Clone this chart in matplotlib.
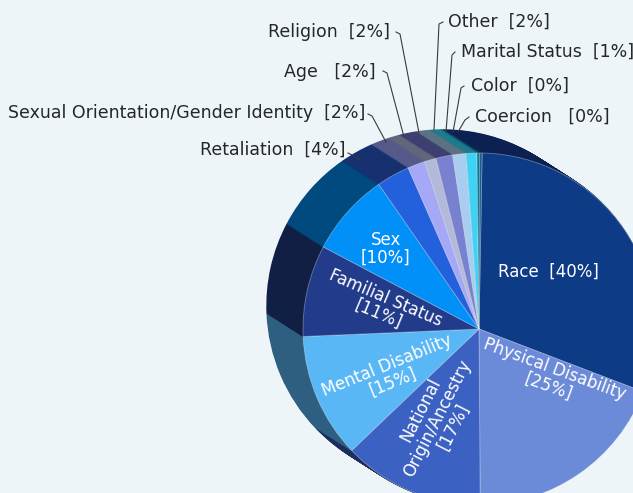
import matplotlib.pyplot as plt

# Fair housing complaint bases (slice sizes estimated, labels as shown)
bases = ["Race", "Physical Disability", "National Origin/Ancestry", "Mental Disability",
         "Familial Status", "Sex", "Retaliation", "Sexual Orientation/Gender Identity",
         "Age", "Religion", "Other", "Marital Status", "Color", "Coercion"]
sizes = [40, 25, 17, 15, 11, 10, 4, 2.1, 1.4, 2.0, 1.6, 1.3, 0.3, 0.3]
pct_text = ["40%", "25%", "17%", "15%", "11%", "10%", "4%", "2%", "2%", "2%", "2%", "1%", "0%", "0%"]

top_colors = ["#0e3b86", "#6b8bd8", "#3b62c3", "#5ab7f6", "#223b8b", "#0090f8", "#2360dc",
              "#a5a8f6", "#b2b9d9", "#7880d0", "#a8cdf0", "#40d2f6", "#0a7a92", "#1d5c90"]
side_colors = ["#0c2152", "#3a4f85", "#1c2d5e", "#2e5f80", "#121f45", "#004a80", "#17306f",
               "#555a8a", "#62667a", "#3c3f70", "#5a7282", "#1e7a8c", "#0c5a78", "#0a2a50"]

H = 493
bg = "#edf5f8"

fig = plt.figure(figsize=(6.33, 4.93), dpi=100, facecolor=bg)
ax = fig.add_axes([0, 0, 1, 1])
ax.set_facecolor(bg)

cx, cy, r = 479, H - 329, 176
dx, dy = -36, 23
steps = 40

# side wall: stacked copies of the pie pushed back up-left
for k in range(steps, 0, -1):
    t = k / steps
    wedges, _ = ax.pie(sizes, colors=side_colors, center=(cx + dx * t, cy + dy * t), radius=r,
                       startangle=89, counterclock=False, wedgeprops={"linewidth": 1})
    for w in wedges:
        w.set_edgecolor(w.get_facecolor())

# top face
ax.pie(sizes, colors=top_colors, center=(cx, cy), radius=r,
       startangle=89, counterclock=False,
       wedgeprops={"linewidth": 0.6, "edgecolor": (1, 1, 1, 0.35)})

ax.set_xlim(0, 633)
ax.set_ylim(0, H)
ax.set_aspect("equal")
ax.axis("off")

fs = 12.5

# labels inside slices
inside = [
    (0, "{}  [{}]", 548, 272, 0),
    (1, "{}\n[{}]", 552, 378, -20),
    (2, "National\nOrigin/Ancestry\n[{1}]", 437, 418, 63),
    (3, "{}\n[{}]", 390, 374, 22),
    (4, "{}\n[{}]", 382, 306, -23),
    (5, "{}\n[{}]", 386, 249, 0),
]
for i, fmt, x, y, rot in inside:
    ax.text(x, H - y, fmt.format(bases[i], pct_text[i]), color="white", fontsize=12,
            ha="center", va="center", rotation=rot, rotation_mode="anchor",
            multialignment="center", linespacing=1.0)

# labels outside with leader lines: (index, gap, text x, text y, align, line points)
outside = [
    (6, "  ", 345, 150, "right", [(348, 153), (352, 155), (360, 160)]),
    (7, "  ", 365, 113, "right", [(368, 114), (372, 116), (386, 142)]),
    (8, "   ", 376, 72, "right", [(383, 71), (387, 73), (404, 137)]),
    (9, "  ", 390, 32, "right", [(396, 32), (400, 34), (419, 133)]),
    (10, "  ", 448, 22, "left", [(443, 22), (439, 24), (434, 130)]),
    (11, "  ", 461, 52, "left", [(455, 52), (452, 55), (446, 132)]),
    (12, "  ", 471, 86, "left", [(464, 86), (461, 88), (453, 132)]),
    (13, "   ", 475, 117, "left", [(469, 117), (465, 120), (458, 132)]),
]
for i, gap, x, y, ha, pts in outside:
    ax.text(x, H - y, bases[i] + gap + "[" + pct_text[i] + "]", color="#262626",
            fontsize=fs, ha=ha, va="center")
    ax.plot([p[0] for p in pts], [H - p[1] for p in pts], color="#3a3a3a", lw=0.8)

fig.savefig("out.png", dpi=100, facecolor=bg)
